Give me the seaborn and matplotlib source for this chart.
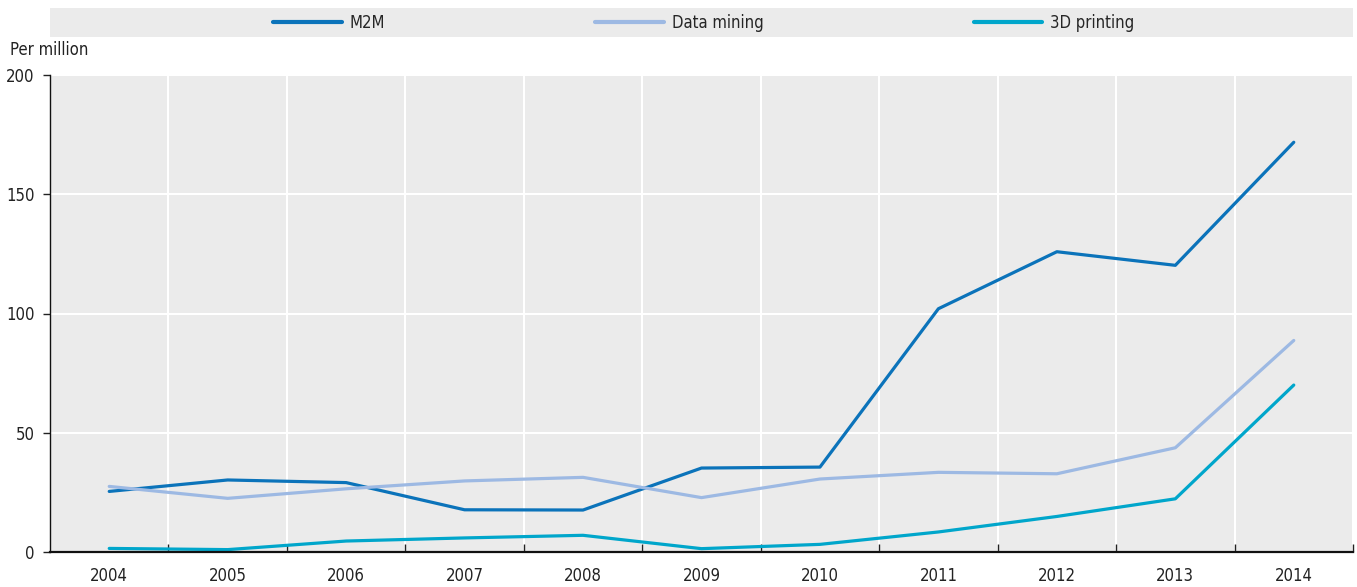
import pandas as pd
import seaborn as sns
import matplotlib.pyplot as plt
from matplotlib.patches import Rectangle
from matplotlib.ticker import FixedLocator

years = ["2004", "2005", "2006", "2007", "2008", "2009", "2010", "2011", "2012", "2013", "2014"]
m2m = [25.4, 30.2, 29.1, 17.7, 17.6, 35.2, 35.6, 102.0, 125.9, 120.2, 171.8]
data_mining = [27.5, 22.5, 26.5, 29.8, 31.3, 22.8, 30.6, 33.4, 32.8, 43.7, 88.7]
printing_3d = [1.5, 1.0, 4.6, 5.9, 7.0, 1.4, 3.2, 8.4, 14.9, 22.3, 70.0]
series_names = ["M2M", "Data mining", "3D printing"]
colors = ["#0B73BA", "#9DB9E3", "#00A6CB"]

df = pd.DataFrame({
    "year": years * 3,
    "value": m2m + data_mining + printing_3d,
    "series": [s for s in series_names for _ in years],
})

sns.set_style("darkgrid", {"axes.facecolor": "#EBEBEB", "grid.color": "white"})
plt.rcParams["font.family"] = ["DejaVu Sans"]
plt.rcParams["font.stretch"] = "condensed"
plt.rcParams["font.size"] = 12

fig = plt.figure(figsize=(13.57, 5.87), dpi=100)
ax = fig.add_axes([50 / 1357, 1 - 552 / 587, 1303 / 1357, 477 / 587])

sns.lineplot(data=df, x="year", y="value", hue="series", palette=colors,
             linewidth=2.3, ax=ax, sort=False)

ax.set_xlim(-0.5, len(years) - 0.5)
ax.set_ylim(0, 200)
ax.set_yticks([0, 50, 100, 150, 200])
ax.set_xlabel("")
ax.set_ylabel("")

# category labels at centres, gridlines/ticks at band boundaries
ax.set_xticks(range(len(years)))
ax.set_xticklabels(years)
ax.xaxis.set_minor_locator(FixedLocator([i + 0.5 for i in range(len(years))]))
ax.grid(False, axis="x", which="major")
ax.grid(True, axis="x", which="minor", color="white", linewidth=1.5)
ax.grid(True, axis="y", which="major", color="white", linewidth=1.5)
ax.tick_params(axis="x", which="major", length=0, pad=11, labelsize=12, colors="#222222")
ax.tick_params(axis="x", which="minor", direction="in", length=6, width=1, color="#222222", bottom=True)
ax.tick_params(axis="y", length=5, width=1, color="#222222", pad=6, labelsize=12, left=True)
for lbl in ax.get_yticklabels():
    lbl.set_color("#222222")

for side in ["top", "right"]:
    ax.spines[side].set_visible(False)
ax.spines["bottom"].set_visible(True)
ax.spines["bottom"].set_color("#111111")
ax.spines["bottom"].set_linewidth(1.6)
ax.spines["left"].set_visible(True)
ax.spines["left"].set_color("#111111")
ax.spines["left"].set_linewidth(1.0)

# legend strip on top
fig.patches.append(Rectangle((50 / 1357, 1 - 37 / 587), 1303 / 1357, 29 / 587,
                             transform=fig.transFigure, facecolor="#EBEBEB",
                             edgecolor="none", zorder=0))
handles, labels = ax.get_legend_handles_labels()
ax.get_legend().remove()
leg = fig.legend(handles, labels, loc="center", ncol=3,
                 bbox_to_anchor=(704 / 1357, 1 - 22.5 / 587),
                 frameon=False, handlelength=4.1, handletextpad=0.5,
                 columnspacing=12.6, fontsize=12)
for line in leg.get_lines():
    line.set_linewidth(3)

fig.text(10 / 1357, 1 - 50 / 587, "Per million", ha="left", va="center",
         fontsize=12, color="#222222")

fig.savefig("out.png", dpi=100)
